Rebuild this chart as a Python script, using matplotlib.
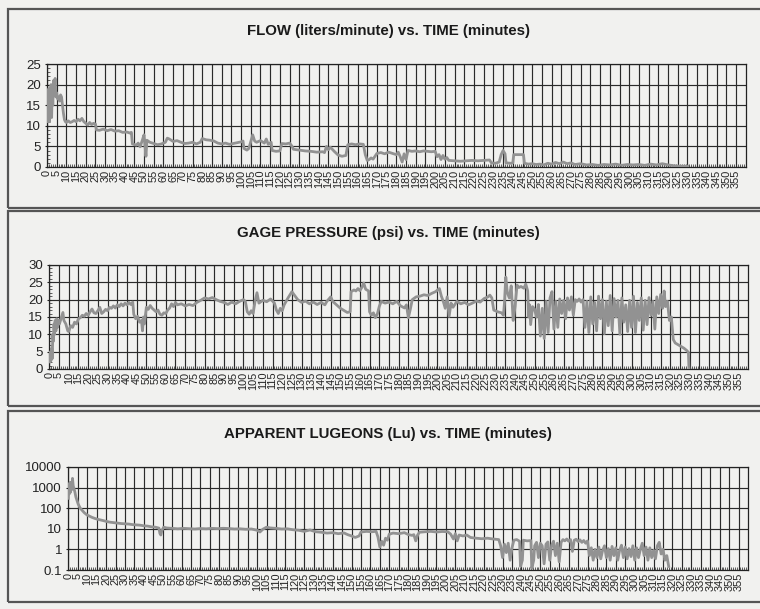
#!/usr/bin/env python

import numpy as np
import matplotlib
matplotlib.use('Agg')
import matplotlib.pyplot as plt
from matplotlib.ticker import MultipleLocator, FixedLocator, NullFormatter
from matplotlib.patches import Rectangle

plt.rcParams['font.family'] = ['Liberation Sans', 'DejaVu Sans']

# Flow (liters/minute): time (min), value
flow_t = [0, 0.3, 0.6, 0.9, 1.2, 1.5, 1.8, 2.1, 2.4, 2.7, 3.0, 3.4, 3.8, 4.2, 4.6, 5.0, 5.5, 6.0, 6.5, 7.0,
          7.5, 8.0, 8.5, 9.0, 9.5, 10, 11, 12, 13, 14, 15, 16, 17, 18, 19, 20, 21, 22, 23, 24,
          25, 25.5, 27, 29, 31, 33, 35, 37, 39, 41, 43, 43.5, 44, 46, 47, 48, 49, 50, 50.5, 51,
          51.5, 53, 55, 57, 59, 61, 62, 63, 65, 67, 69, 71, 73, 75, 77, 79, 80, 82, 84, 86,
          88, 90, 92, 94, 96, 98, 100, 101, 101.5, 103, 104, 105, 106, 107, 108, 110, 112, 113, 114, 115.5,
          116, 118, 120, 121, 123, 125, 126, 127, 130, 133, 136, 139, 142, 143, 144, 145, 146, 148, 150, 152,
          154, 155, 157, 159, 161, 163, 164, 165, 166, 167, 168, 170, 172, 174, 176, 178, 180, 181, 182, 183,
          184, 185, 186, 188, 190, 192, 194, 196, 198, 200, 201, 202, 203, 204, 205, 206, 207, 210, 213, 216,
          219, 222, 225, 228, 229, 231, 233, 234, 235, 236, 236.5, 239, 240, 240.5, 243, 245.5, 246, 248, 250, 252,
          254, 256, 258, 260, 262, 264, 266, 268, 270, 272, 275, 278, 281, 284, 287, 290, 293, 296, 299, 302,
          305, 308, 311, 314, 317, 320, 323, 326, 330]
flow_v = [11, 17, 12, 19, 11, 18, 13, 20, 12, 19, 15, 21, 19, 21.5, 17, 18, 16.5, 17, 16, 17.5,
          17, 15, 13, 11.5, 11, 10.8, 11.2, 10.8, 11, 11.3, 11, 11.6, 11.2, 11.8, 11, 10.6, 10.2, 10.8, 10.3, 10.6,
          10.4, 9.0, 8.9, 9.2, 8.8, 9.1, 8.7, 8.8, 8.4, 8.5, 8.2, 8.4, 5.6, 5.3, 5.8, 4.9, 6.3, 7.8, 5.2, 2.6,
          6.5, 6.0, 5.7, 5.4, 5.6, 6.0, 7.0, 6.8, 6.2, 6.4, 6.0, 5.7, 5.8, 6.0, 5.6, 6.0, 6.9, 6.6, 6.5, 6.3,
          5.8, 5.6, 5.8, 5.5, 5.7, 5.9, 6.1, 6.3, 4.5, 4.1, 4.5, 6.2, 7.8, 6.3, 6.0, 6.4, 5.8, 6.8, 5.5, 6.0,
          4.0, 3.8, 3.9, 5.7, 5.6, 5.8, 5.2, 4.3, 4.1, 3.9, 3.8, 3.6, 3.7, 3.5, 5.0, 4.2, 4.8, 3.8, 2.9, 2.6,
          2.8, 5.4, 5.6, 5.4, 5.6, 5.5, 3.0, 1.6, 1.8, 2.2, 1.9, 3.3, 3.5, 3.2, 3.6, 3.3, 3.0, 3.6, 2.5, 1.2,
          3.2, 1.8, 4.0, 3.8, 3.9, 3.7, 3.9, 3.8, 3.7, 3.8, 2.5, 3.0, 1.8, 2.8, 1.9, 2.3, 1.6, 1.5, 1.4, 1.5,
          1.6, 1.5, 1.6, 1.7, 1.0, 0.9, 1.2, 3.0, 4.0, 3.2, 1.0, 0.9, 1.0, 3.0, 3.0, 3.0, 0.9, 0.7, 0.8, 0.6,
          0.7, 0.5, 0.9, 0.7, 1.1, 0.8, 1.2, 0.8, 1.0, 0.6, 0.8, 0.5, 0.6, 0.4, 0.6, 0.5, 0.7, 0.4, 0.6, 0.5,
          0.6, 0.4, 0.7, 0.5, 0.8, 0.5, 0.3, 0.2, 0.2]

# Gage pressure (psi)
pres_t = [0, 0.3, 0.6, 0.9, 1.2, 1.5, 1.8, 2.1, 2.4, 2.7, 3.0, 3.4, 3.8, 4.2, 4.6, 5.2, 6, 7, 7.5, 8.5,
          9.5, 10, 11, 12, 13, 14, 15, 16, 17, 18, 19, 20, 21, 22, 23, 24, 25, 26, 27, 28,
          29, 30, 31, 32, 33, 34, 35, 36, 37, 38, 39, 40, 41, 42, 43, 43.5, 44.5, 45.5, 46.5, 47.5,
          48, 48.5, 49, 50, 51, 52, 53, 54, 55, 56, 57, 58, 59, 60, 61, 62, 63, 64, 65, 66,
          68, 70, 72, 74, 76, 78, 80, 82, 84, 86, 88, 90, 92, 94, 96, 98, 100, 101, 102, 103,
          104, 105, 106, 107, 108, 110, 112, 114, 116, 117, 118, 119, 120, 121, 123, 125, 126, 128, 130, 132,
          134, 136, 138, 140, 142, 143, 145, 146, 148, 150, 152, 153.5, 155, 155.5, 157, 158, 159, 160, 161, 162,
          163, 164.5, 165, 166, 167, 168, 169, 170, 171, 173, 175, 177, 179, 181, 183, 184, 185, 186, 187, 189,
          191, 193, 195, 197, 199, 201, 202, 203, 204, 205, 206, 207, 208, 210, 212, 214, 216, 218, 220, 222,
          224, 226, 227, 228, 229, 231, 233, 234, 234.5, 235.2, 236, 237, 238, 239, 240, 241, 242, 243, 244.5, 245.5,
          246.5, 247, 247.5, 248, 249, 250, 251, 252, 253, 254, 255, 256, 257, 258, 259, 260, 261, 262, 263, 264,
          265, 266, 267, 268, 269, 270, 271, 272, 273, 274, 275, 276, 277, 278, 279, 280, 281, 282, 283, 284,
          285, 286, 287, 288, 289, 290, 291, 292, 293, 294, 295, 296, 297, 298, 299, 300, 301, 302, 303, 304,
          305, 306, 307, 308, 309, 310, 311, 312, 313, 314, 315, 316, 316.8, 317.5, 318.5, 319.5, 320.5, 321.5, 322.5, 324,
          325.5, 327, 328.5, 329.3, 329.6]
pres_v = [4, 2, 5, 2.5, 6, 3, 10, 8, 13, 10, 14, 11, 14.5, 12, 14, 13, 14.5, 16.3, 14, 13,
          11, 10.8, 12.5, 12, 13.5, 13, 14.5, 14.8, 15.5, 15.2, 16, 15.5, 16.5, 17.3, 16.2, 16, 16.8, 17.8, 16, 16.5,
          17.2, 16.8, 17.8, 17.5, 18.2, 17.6, 18.5, 18, 18.8, 18.2, 19, 18.5, 19.2, 18.6, 19.3, 15.8, 14.5, 15.2, 13.5, 14,
          11, 15, 13, 17.8, 17.2, 18.3, 17.5, 17, 16.5, 17, 15.8, 15.5, 16.2, 16, 17, 17.6, 18.8, 18, 19.2, 18.5,
          18.8, 18.2, 18.6, 18.3, 19.2, 19.8, 20.5, 20.2, 20.6, 20, 19.5, 19.2, 18.6, 19.3, 18.8, 19.5, 20, 19.5, 16.5, 15.8,
          16.8, 16, 19.5, 22, 19, 19.8, 19.4, 20.2, 19, 17, 16, 17.5, 16.8, 18.5, 20.5, 22.3, 21.5, 20, 19.2, 19.6,
          18.8, 19.3, 18.6, 19.2, 18.5, 19.5, 20.8, 19.5, 18.5, 17.5, 16.8, 16.3, 16.5, 22.3, 22.8, 22.5, 23.2, 22.6, 23.5, 24.8,
          23, 22.5, 16.5, 15.5, 16.2, 14.8, 15.8, 18, 19.5, 19, 19.3, 18.8, 19.5, 18.2, 17.6, 18.5, 14.8, 17.2, 20, 20.8,
          21, 21.4, 21.2, 21.8, 22.3, 23.2, 21, 19.5, 17.5, 20.8, 15.2, 19, 17.8, 19.5, 18.8, 19.2, 18.5, 19, 19.6, 19.3,
          20.3, 20.8, 21.3, 20.5, 17, 16.5, 16.2, 15.5, 19, 26.5, 22, 20.5, 24, 14, 18, 24.2, 23.5, 23.8, 23.3, 24.5,
          22.5, 15, 18.5, 12.8, 18, 17.3, 15, 18.6, 9.5, 17.5, 8.8, 19.5, 10.5, 20.5, 22.3, 11.5, 19.5, 12, 20.2, 16,
          19.8, 14.5, 20.5, 17, 20.8, 15.5, 20, 19.5, 20.2, 19.3, 20, 12, 19.5, 10.5, 20.8, 13, 19.2, 11, 21, 14.5,
          20, 10.2, 19.5, 12.5, 21.2, 11, 20.3, 15, 19.8, 10, 20.5, 13.5, 18.5, 10.8, 19.8, 12, 21, 10.5, 19.2, 14,
          20.5, 11.2, 19.8, 12.8, 20.6, 15.5, 19.5, 11.5, 20.8, 16, 21.5, 17.5, 22.5, 18, 19.5, 14, 15, 8.5, 7.5, 7,
          6.5, 6, 5.3, 4.8, 0]

# Apparent Lugeons (Lu)
lug_t = [0, 0.3, 0.6, 0.9, 1.2, 1.5, 1.8, 2.2, 2.6, 3.0, 3.5, 4.0, 4.5, 5.2, 6.3, 7.5, 8.5, 9.9, 11, 12.5,
         14, 15.5, 17, 18.5, 20, 22, 24, 26, 28, 30, 32, 34, 36, 38, 40, 42, 44, 46, 48, 48.5,
         49, 49.5, 50.5, 52, 55, 58, 61, 64, 67, 70, 73, 76, 79, 82, 85, 88, 91, 94, 97, 100,
         101.5, 103, 105, 107, 110, 113, 116, 119, 122, 125, 128, 131, 134, 137, 140, 143, 146, 148, 150, 152,
         154, 155, 158, 161, 163, 164, 165, 166, 167, 168, 169, 170, 172, 175, 178, 180, 182, 183, 184, 185,
         186, 189, 192, 195, 198, 201, 202.5, 204, 205, 206, 207, 209, 211, 213, 216, 219, 222, 225, 228, 229,
         230, 231, 232, 233, 234, 235, 236, 237.5, 239, 239.5, 240.5, 241, 243, 245, 245.5, 246.5, 247, 248, 249, 250,
         251, 252, 253, 254, 255, 256, 257, 258, 259, 260, 261, 262, 263, 264, 265, 266, 267, 268, 269, 270,
         271, 272, 273, 274, 275, 276, 277, 278, 279, 280, 281, 282, 283, 284, 285, 286, 287, 288, 289, 290,
         291, 292, 293, 294, 295, 296, 297, 298, 299, 300, 301, 302, 303, 304, 305, 306, 307, 308, 309, 310,
         311, 312, 313, 314, 315, 316, 317, 318]
lug_v = [300, 1400, 500, 1800, 600, 1500, 800, 2800, 1200, 900, 600, 350, 250, 160, 100, 75, 60, 47, 42, 36,
         32, 29, 27, 25, 23, 21, 20, 19, 18, 17.5, 17, 16, 15.5, 15, 14, 13.5, 12.5, 12, 10.8, 6,
         5, 8, 12, 11, 10.5, 10, 10.5, 10.2, 9.8, 10.3, 10, 10.5, 10.2, 10.6, 10.3, 9.8, 10, 9.5, 9.8, 8.5,
         7, 9.5, 12, 11, 10.5, 9.8, 10, 9, 8.5, 7.5, 8.8, 7.2, 6.8, 6.2, 6.5, 5.8, 6.3, 5.2, 4.5, 3.8,
         4.5, 7, 7.5, 7.2, 7.6, 4, 1.3, 2.5, 1.6, 3.5, 2.8, 5.5, 6.2, 5.8, 6.5, 5.3, 4.8, 5.2, 2.6, 5,
         6.8, 7.2, 7.5, 7, 7.4, 7.2, 5.5, 3.2, 5.8, 2.6, 5, 4.5, 5, 3.8, 3.5, 3.3, 3.5, 3.2, 3, 1.5,
         0.4, 1.8, 0.7, 2, 0.3, 1.2, 2.8, 3, 2.5, 0.15, 0.3, 2.8, 2.6, 2.7, 0.12, 0.3, 1.5, 2.2, 0.4, 2,
         1.5, 0.2, 1.8, 2.3, 0.3, 1.6, 2.5, 0.5, 2, 0.25, 2.2, 3, 2.6, 3.2, 2.5, 3, 0.8, 2.8, 3.1, 2.4,
         2.9, 2.2, 2.7, 2, 2.6, 0.5, 1.2, 0.3, 1, 0.4, 1.3, 0.35, 0.9, 1.5, 0.4, 1.1, 0.3, 1.4, 0.5, 1.2,
         0.3, 0.9, 1.6, 0.4, 1.3, 0.35, 1.1, 0.45, 1.5, 0.3, 1.2, 0.4, 1.0, 2, 0.5, 1.3, 0.3, 1.2, 0.4, 0.9,
         0.35, 1.5, 2.2, 0.6, 1.0, 0.3, 0.5, 0.15]

titles = ['FLOW (liters/minute) vs. TIME (minutes)',
          'GAGE PRESSURE (psi) vs. TIME (minutes)',
          'APPARENT LUGEONS (Lu) vs. TIME (minutes)']
time_ticks = list(range(0, 360, 5))

paper = '#f1f1ef'
line_c = '#929292'
grid_c = '#2a2a2a'

fig = plt.figure(figsize=(7.6, 6.09), dpi=100, facecolor=paper)

# Panel frames (scanned boxes)
for y0, h in [(0.658, 0.327), (0.333, 0.320), (0.012, 0.313)]:
    fig.patches.append(Rectangle((0.0105, y0), 1.0, h, transform=fig.transFigure,
                                 fill=False, edgecolor='#555555', lw=1.6))

ax_pos = [[0.0618, 0.7258, 0.9194, 0.1691],
          [0.0649, 0.3941, 0.9193, 0.1708],
          [0.0899, 0.0640, 0.8943, 0.1692]]
title_y = [0.949, 0.617, 0.2874]
data = [(flow_t, flow_v), (pres_t, pres_v), (lug_t, lug_v)]

for i in range(3):
    ax = fig.add_axes(ax_pos[i])
    ax.set_facecolor(paper)
    t, v = data[i]
    ax.plot(t, v, color=line_c, lw=2.0, zorder=3)
    ax.set_xlim(0, 360)

    if i == 0:
        ax.set_ylim(0, 25)
        ax.yaxis.set_major_locator(MultipleLocator(5))
        ax.yaxis.set_minor_locator(MultipleLocator(1))
    elif i == 1:
        ax.set_ylim(0, 30)
        ax.yaxis.set_major_locator(MultipleLocator(5))
        ax.yaxis.set_minor_locator(MultipleLocator(1))
    else:
        ax.set_yscale('log')
        ax.set_ylim(0.1, 10000)
        yt = [0.1, 1, 10, 100, 1000, 10000]
        ax.yaxis.set_major_locator(FixedLocator(yt))
        ax.set_yticklabels(['0.1', '1', '10', '100', '1000', '10000'])
        ax.yaxis.set_minor_formatter(NullFormatter())

    ax.xaxis.set_major_locator(FixedLocator(time_ticks))
    ax.xaxis.set_minor_locator(MultipleLocator(1))
    ax.set_xticklabels([str(x) for x in time_ticks], rotation=90, fontsize=7.8,
                       ha='center', va='top')

    ax.grid(True, which='major', color=grid_c, lw=0.85)
    ax.set_axisbelow(True)
    ax.tick_params(axis='x', which='major', length=0, pad=2, colors='#222222')
    ax.tick_params(axis='x', which='minor', length=2.5, direction='in', color='#444444')
    ax.tick_params(axis='y', which='major', length=3, direction='inout', labelsize=9.5,
                   colors='#222222', pad=3)
    ax.tick_params(axis='y', which='minor', length=2, direction='in', color='#444444')
    for s in ax.spines.values():
        s.set_color('#222222')
        s.set_linewidth(0.9)

    fig.text(0.511, title_y[i], titles[i], ha='center', va='center',
             fontsize=10.8, fontweight='bold', color='#1a1a1a')

plt.savefig('out.png', dpi=100, facecolor=paper)
